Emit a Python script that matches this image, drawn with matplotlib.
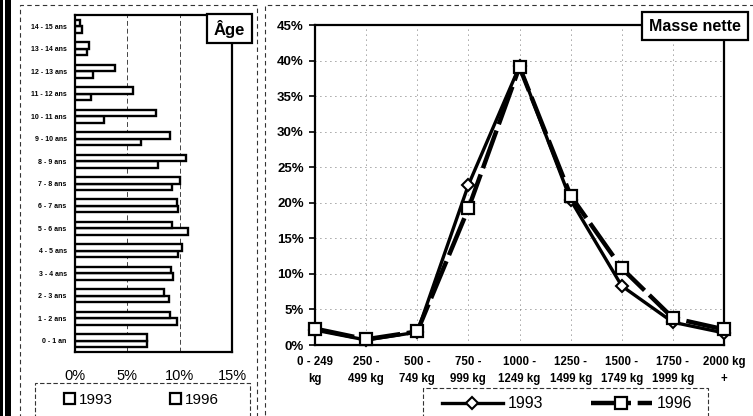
import numpy as np
import matplotlib
matplotlib.use('Agg')
import matplotlib.pyplot as plt
from matplotlib.patches import Rectangle, Patch
from matplotlib.lines import Line2D

plt.rcParams['font.family'] = ['Liberation Sans', 'DejaVu Sans']

# ---------------- data ----------------
age_labels = ['0 - 1 an', '1 - 2 ans', '2 - 3 ans', '3 - 4 ans', '4 - 5 ans',
              '5 - 6 ans', '6 - 7 ans', '7 - 8 ans', '8 - 9 ans', '9 - 10 ans',
              '10 - 11 ans', '11 - 12 ans', '12 - 13 ans', '13 - 14 ans', '14 - 15 ans']
age_1993 = [6.9, 9.7, 9.0, 9.4, 9.8, 10.8, 9.8, 9.3, 7.9, 6.3, 2.8, 1.5, 1.7, 1.1, 0.7]
age_1996 = [6.9, 9.1, 8.5, 9.2, 10.2, 9.3, 9.7, 10.0, 10.6, 9.1, 7.7, 5.5, 3.8, 1.3, 0.5]
age_ticks = [0, 5, 10, 15]

mass_labels = ['0 - 249\nkg', '250 -\n499 kg', '500 -\n749 kg', '750 -\n999 kg',
               '1000 -\n1249 kg', '1250 -\n1499 kg', '1500 -\n1749 kg',
               '1750 -\n1999 kg', '2000 kg\n+']
mass_1993 = [2.1, 0.7, 1.8, 22.5, 39.2, 20.4, 8.3, 3.2, 1.7]
mass_1996 = [2.3, 0.8, 1.9, 19.2, 39.1, 21.0, 10.8, 3.8, 2.2]
mass_ticks = [0, 5, 10, 15, 20, 25, 30, 35, 40, 45]

years = ['1993', '1996']

# ---------------- figure ----------------
W, H = 753, 416
fig = plt.figure(figsize=(W / 100, H / 100), dpi=100)


def fx(x):
    return x / W


def fy(y):
    return 1 - y / H


def px_axes(l, t, r, b):
    return fig.add_axes([fx(l), fy(b), (r - l) / W, (b - t) / H])


def frect(l, t, r, b, **kw):
    rect = Rectangle((fx(l), fy(b)), (r - l) / W, (b - t) / H,
                     transform=fig.transFigure, **kw)
    fig.add_artist(rect)
    return rect


# decorative page borders (scan frame)
frect(0, -5, 2.5, 425, facecolor='black', edgecolor='none')
frect(5, -5, 11, 425, facecolor='black', edgecolor='none')
frect(20, 5, 257, 425, facecolor='none', edgecolor='#333333', lw=0.8, ls=(0, (4, 3)))
frect(265, 5, 760, 425, facecolor='none', edgecolor='#333333', lw=0.8, ls=(0, (4, 3)))

# ---------------- left: age bars ----------------
ax1 = px_axes(75, 15, 232, 352)
y = np.arange(len(age_labels))
h = 0.29
b1 = ax1.barh(y - h / 2, age_1993, height=h, color='white', edgecolor='black', lw=1.7, zorder=3)
b2 = ax1.barh(y + h / 2, age_1996, height=h, color='white', edgecolor='black', lw=1.7, zorder=3)
ax1.set_xlim(age_ticks[0], age_ticks[-1])
ax1.set_ylim(-0.5, len(age_labels) - 0.5)
ax1.set_xticks(age_ticks, [f'{t}%' for t in age_ticks], fontsize=10.5)
ax1.set_yticks(y, age_labels, fontsize=5, fontweight='bold')
ax1.tick_params(axis='y', length=0, pad=6)
ax1.tick_params(axis='x', length=0, pad=12)
ax1.xaxis.grid(True, color='#444444', lw=0.7, ls=(0, (5, 3)))
ax1.set_axisbelow(True)
for s in ax1.spines.values():
    s.set_linewidth(1.6)
    s.set_color('black')

# Âge label box
frect(207, 14, 252, 43, facecolor='white', edgecolor='black', lw=1.6, zorder=10)
fig.text(fx(229.5), fy(29), 'Âge', ha='center', va='center', fontsize=12,
         fontweight='bold', zorder=11)

# left legend
frect(35, 383, 250, 430, facecolor='none', edgecolor='#333333', lw=0.8, ls=(0, (4, 2)))
h1 = Patch(facecolor='white', edgecolor='black', lw=1.6)
h2 = Patch(facecolor='white', edgecolor='black', lw=1.6)
fig.legend([h1, h2], years, loc='center left', bbox_to_anchor=(fx(64), fy(400)),
           ncol=2, frameon=False, fontsize=11, handlelength=0.7, handleheight=0.7,
           handletextpad=0.3, columnspacing=3.7, borderpad=0, borderaxespad=0)

# ---------------- right: mass lines ----------------
ax2 = px_axes(315, 25, 724, 345)
x = np.arange(len(mass_labels))
l1, = ax2.plot(x, mass_1993, color='black', lw=2.4, marker='D', ms=6.5, mfc='white',
               mec='black', mew=1.5, zorder=4, clip_on=False)
l2, = ax2.plot(x, mass_1996, color='black', lw=3.2, ls=(0, (9, 1.5)), marker='s', ms=8,
               mfc='white', mec='black', mew=1.6, zorder=5, clip_on=False)
ax2.set_xlim(0, len(mass_labels) - 1)
ax2.set_ylim(mass_ticks[0], mass_ticks[-1])
ax2.set_yticks(mass_ticks, [f'{t}%' for t in mass_ticks], fontsize=9.5, fontweight='bold')
ax2.set_xticks(x, mass_labels, fontsize=8.3, fontweight='bold', linespacing=1.55)
ax2.tick_params(axis='y', length=4, width=1.2, pad=4, direction='out')
ax2.tick_params(axis='x', length=0, pad=8)
ax2.grid(True, color='#444444', lw=0.6, ls=(0, (1, 5)))
ax2.set_axisbelow(True)
for s in ax2.spines.values():
    s.set_linewidth(1.6)
    s.set_color('black')

# Masse nette label box
frect(642, 12, 748, 40, facecolor='white', edgecolor='black', lw=1.6, zorder=10)
fig.text(fx(695), fy(26.5), 'Masse nette', ha='center', va='center', fontsize=11.5,
         fontweight='bold', zorder=11)

# right legend
frect(423, 388, 708, 430, facecolor='none', edgecolor='#333333', lw=0.8, ls=(0, (4, 2)))
fig.legend([l1, l2], years, loc='center left', bbox_to_anchor=(fx(442), fy(404)),
           ncol=2, frameon=False, fontsize=11.5, handlelength=3.8,
           handletextpad=0.3, columnspacing=3.0, borderpad=0, borderaxespad=0)

fig.savefig('out.png', dpi=100)
